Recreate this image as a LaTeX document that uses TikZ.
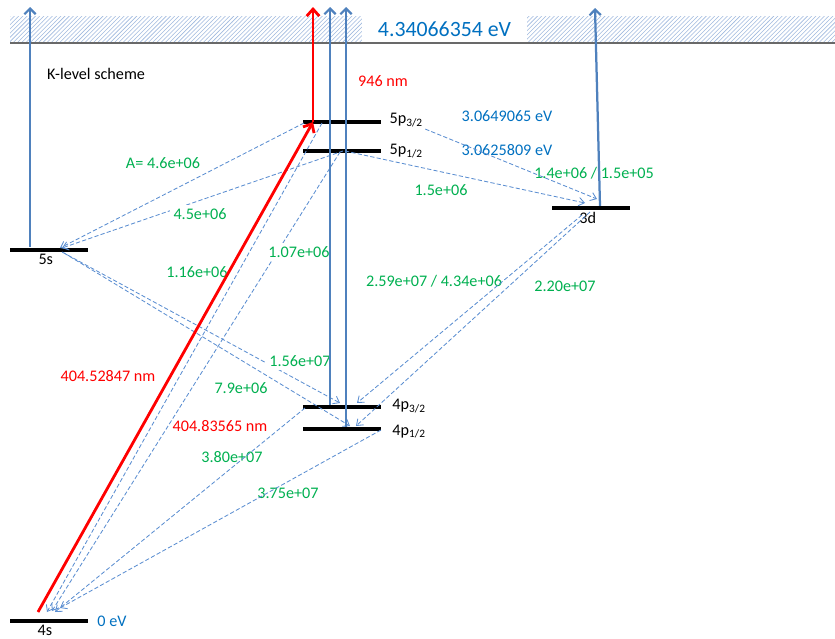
\documentclass[tikz,border=0pt]{standalone}
\usepackage{fontspec}
\setmainfont{Carlito}
\usetikzlibrary{arrows.meta,positioning,calc,patterns}
\definecolor{kblue}{RGB}{79,129,189}
\definecolor{kdash}{RGB}{91,142,209}
\definecolor{kgreen}{RGB}{0,176,80}
\definecolor{ktext}{RGB}{0,112,192}
\definecolor{khatch}{RGB}{160,185,222}
\definecolor{kgray}{RGB}{105,105,105}
\newcommand{\klbl}{\fontsize{11.5}{13.5}\selectfont}

\begin{document}
\begin{tikzpicture}[x=0.025cm, y=-0.025cm,
    every node/.style={font=\klbl},
    lvl/.style={fill=black, inner sep=0pt, minimum height=2.5pt, minimum width=1.95cm},
    lvlname/.style={inner sep=1.5pt},
    rate/.style={text=kgreen, inner sep=2pt},
    ratebox/.style={text=kgreen, fill=white, inner sep=2.5pt},
    decay/.style={draw=kdash, line width=0.6pt, dash pattern=on 3pt off 1.6pt, -{Straight Barb[length=4pt,width=6pt]}},
    ion/.style={draw=kblue, line width=1.6pt, -{Straight Barb[length=4pt,width=8pt]}},
    laser/.style={draw=red, line width=2pt, -{Straight Barb[length=5pt,width=9pt]}}]
    \useasboundingbox (0,0) rectangle (835,638);
    % ionisation limit
    \fill[pattern=north east lines, pattern color=khatch] (10,16) rectangle (835,43);
    \draw[kgray, line width=1.4pt] (10,43) -- (835,43);
    \node[fill=white, text=ktext, font=\fontsize{15.5}{18}\selectfont, minimum width=4.125cm, minimum height=0.65cm, inner sep=0pt] (lim) at (444.5,29) {4.34066354 eV};
    \coordinate (top) at (0,7);
    \coordinate (t3d) at (595,8);

    % levels
    \node[lvl] (s4) at (49,621) {};
    \node[lvl] (s5) at (49,250) {};
    \node[lvl] (p32) at (342,122) {};
    \node[lvl] (p12) at (342,151) {};
    \node[lvl] (p4a) at (342,407) {};
    \node[lvl] (p4b) at (342,429) {};
    \node[lvl] (d3) at (591,208) {};
    \node[lvlname, below=0pt of s4, xshift=-0.1cm] (s4n) {4s};
    \node[lvlname, below=0pt of s5, xshift=-0.08cm] (s5n) {5s};
    \node[lvlname, below=0pt of d3, xshift=-0.08cm] (d3n) {3d};
    \node[lvlname, right=0.15cm of p32, yshift=0.05cm] (p32n) {5p\textsubscript{3/2}};
    \node[lvlname, right=0.15cm of p12] (p12n) {5p\textsubscript{1/2}};
    \node[lvlname, right=0.22cm of p4a, yshift=0.03cm] (p4an) {4p\textsubscript{3/2}};
    \node[lvlname, right=0.22cm of p4b, yshift=-0.06cm] (p4bn) {4p\textsubscript{1/2}};

    % texts
    \node[lvlname] (title) at (96,74) {K-level scheme};
    \node[lvlname, text=red] (l946) at (383,81) {946 nm};
    \node[lvlname, text=red] (l4045) at (108,376) {404.52847 nm};
    \node[lvlname, text=red] (l4048) at (220,426) {404.83565 nm};
    \node[lvlname, text=ktext] (e32) at (507,116) {3.0649065 eV};
    \node[lvlname, text=ktext] (e12) at (507,150) {3.0625809 eV};
    \node[lvlname, text=ktext] (e0) at (112,621) {0 eV};
    \node[rate] (a3d) at (594,173) {1.4e+06 / 1.5e+05};
    \node[rate] (a4p) at (434,281) {2.59e+07 / 4.34e+06};
    \node[rate] (a4a) at (232,457) {3.80e+07};
    \node[rate] (a4b) at (288,493) {3.75e+07};

    % decays
    \draw[decay] ($(p32)+(-38,1)$) -- ($(s5)+(11,-2)$);
    \draw[decay] ($(p12)+(1,0)$) -- ($(s5)+(13,-2)$);
    \draw[decay] ($(p32)+(-20,1)$) -- ($(s4)+(-2,-9)$);
    \draw[decay] ($(p12)+(-2,1)$) -- ($(s4)+(3,-10)$);
    \draw[decay] ($(s5)+(13,2)$) -- ($(p4a)+(-2,-4)$);
    \draw[decay] ($(s5)+(15,3)$) -- ($(p4b)+(8,-3)$);
    \draw[decay] ($(p4a)+(-37,1)$) -- ($(s4)+(6,-9)$);
    \draw[decay] ($(p4b)+(39,1)$) -- ($(s4)+(11,-13)$);
    \draw[decay] (p32n.south east) -- ($(d3)+(6,-9)$);
    \draw[decay] ($(p12)+(3,0)$) -- ($(d3)+(-6,-5)$);
    \draw[decay] ($(d3)+(-9,7)$) -- ($(p4a)+(15,-4)$);
    \draw[decay] ($(d3)+(-1,4)$) -- ($(p4b)+(14,-3)$);

    \node[ratebox] (a1) at (163,163) {A= 4.6e+06};
    \node[ratebox] (a2) at (200,214) {4.5e+06};
    \node[ratebox] (a3) at (441,190) {1.5e+06};
    \node[ratebox] (a4) at (197,272) {1.16e+06};
    \node[ratebox] (a5) at (299,252) {1.07e+06};
    \node[ratebox] (a6) at (300,361) {1.56e+07};
    \node[ratebox] (a7) at (241,388) {7.9e+06};
    \node[ratebox] (a8) at (565,286) {2.20e+07};

    % ionisation and laser
    \coordinate (f5s) at ($(s5.north)+(-19,-1)$);
    \coordinate (f4a) at ($(p4a.north)+(-12,0)$);
    \coordinate (f4b) at ($(p4b.north)+(4,0)$);
    \coordinate (f3d) at ($(d3.north)+(9,0)$);
    \coordinate (rl) at ($(p32)+(-29,0)$);
    \draw[ion] (f5s) -- (f5s |- top);
    \draw[ion] (f4a) -- (f4a |- top);
    \draw[ion] (f4b) -- (f4b |- top);
    \draw[ion] (f3d) -- (t3d);
    \draw[laser] ($(s4)+(-11,-9)$) -- (rl);
    \draw[laser] (rl) -- (rl |- top);
\end{tikzpicture}
\end{document}
